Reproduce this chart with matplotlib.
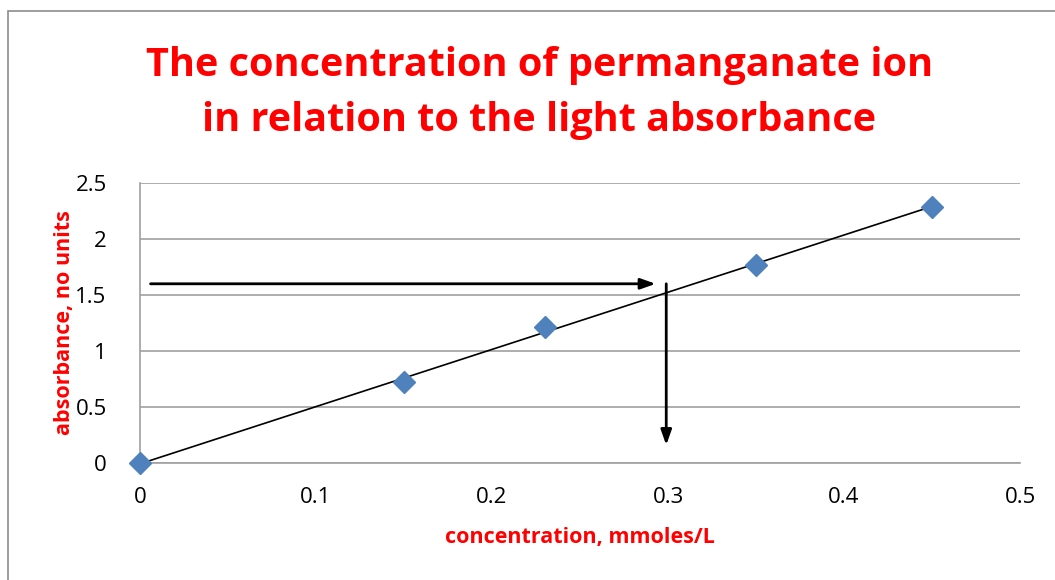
import matplotlib.pyplot as plt
import numpy as np
from matplotlib.patches import Rectangle

plt.rcParams["font.family"] = ["Open Sans", "DejaVu Sans"]

# data
concentration = [0.0, 0.15, 0.23, 0.35, 0.45]
absorbance = [0.0, 0.72, 1.21, 1.77, 2.29]

# reading arrows: across from the absorbance, then down to the concentration
arrow_h_x = [0.006, 0.293]
arrow_h_y = [1.6, 1.6]
arrow_v_x = [0.299, 0.299]
arrow_v_y = [1.6, 0.16]

x_ticks = [0, 0.1, 0.2, 0.3, 0.4, 0.5]
x_labels = ["0", "0.1", "0.2", "0.3", "0.4", "0.5"]
y_ticks = [0, 0.5, 1, 1.5, 2, 2.5]
y_labels = ["0", "0.5", "1", "1.5", "2", "2.5"]

fig = plt.figure(figsize=(10.55, 5.8), dpi=100)
ax = fig.add_axes([140 / 1055, 1 - 463 / 580, 880 / 1055, 280 / 580])

# outer chart frame
fig.patches.append(Rectangle((8 / 1055, -0.1), 1.2, 1 - 11 / 580 + 0.1,
                             transform=fig.transFigure, fill=False,
                             edgecolor="#8c8c8c", linewidth=1.2))

# trend line
k, b = np.polyfit(concentration, absorbance, 1)
xs = np.array([concentration[0], concentration[-1]])
ax.plot(xs, k * xs + b, color="black", linewidth=1.2, zorder=3)

ax.plot(concentration, absorbance, linestyle="none", marker="D",
        markersize=11, color="#4f81bd", zorder=4, clip_on=False)

ax.annotate("", xy=(arrow_h_x[1], arrow_h_y[1]), xytext=(arrow_h_x[0], arrow_h_y[0]),
            arrowprops=dict(arrowstyle="-|>,head_length=0.9,head_width=0.32",
                            color="black", lw=2, shrinkA=0, shrinkB=0))
ax.annotate("", xy=(arrow_v_x[1], arrow_v_y[1]), xytext=(arrow_v_x[0], arrow_v_y[0]),
            arrowprops=dict(arrowstyle="-|>,head_length=0.9,head_width=0.32",
                            color="black", lw=2, shrinkA=0, shrinkB=0))

ax.set_xlim(0, 0.5)
ax.set_ylim(0, 2.5)
ax.set_xticks(x_ticks, x_labels)
ax.set_yticks(y_ticks, y_labels)
ax.tick_params(length=0, labelsize=16, pad=17)
ax.tick_params(axis="y", pad=24)
ax.grid(axis="y", color="#a0a0a0", linewidth=1.2)
ax.set_axisbelow(True)
for side in ["top", "right"]:
    ax.spines[side].set_visible(False)
for side in ["left", "bottom"]:
    ax.spines[side].set_color("#a0a0a0")
    ax.spines[side].set_linewidth(1.2)

ax.set_xlabel("concentration, mmoles/L", color="red", fontsize=15.5,
              fontweight="bold", labelpad=14)
ax.set_ylabel("absorbance, no units", color="red", fontsize=15.5,
              fontweight="bold", labelpad=0)

fig.text(0.511, 1 - 93 / 580, "The concentration of permanganate ion\nin relation to the light absorbance",
         ha="center", va="center", color="red", fontsize=28.5, fontweight="bold",
         linespacing=1.55)

fig.savefig("out.png", dpi=100)
